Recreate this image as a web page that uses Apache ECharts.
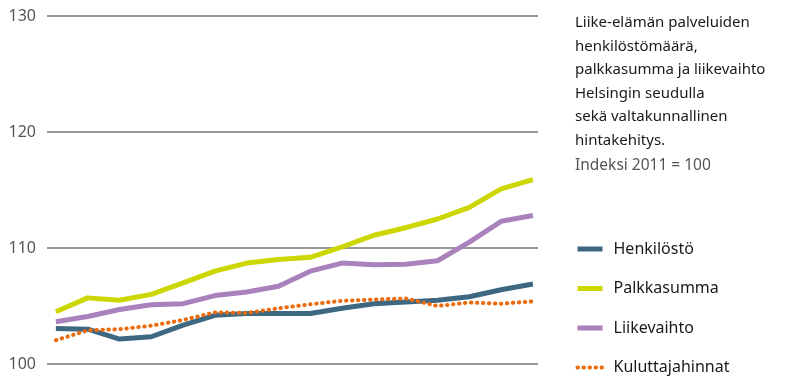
<!DOCTYPE html>
<html>
<head>
<meta charset="utf-8">
<script src="https://cdn.jsdelivr.net/npm/echarts@6/dist/echarts.min.js"></script>
<style>
  html, body { margin: 0; padding: 0; background: #fff; }
  #chart { width: 800px; height: 378px; }
</style>
</head>
<body>
<div id="chart"></div>
<script>
// indeksi 2011 = 100, 16 havaintoa
var xIndex = [0, 1, 2, 3, 4, 5, 6, 7, 8, 9, 10, 11, 12, 13, 14, 15];
var yTicks = [100, 110, 120, 130];

var henkilosto = [103.05, 103.0, 102.15, 102.35, 103.35, 104.2, 104.35, 104.35, 104.35, 104.8, 105.2, 105.35, 105.5, 105.8, 106.4, 106.9];
var palkkasumma = [104.5, 105.7, 105.5, 106.0, 107.0, 108.0, 108.7, 109.0, 109.2, 110.1, 111.1, 111.75, 112.5, 113.5, 115.1, 115.9];
var liikevaihto = [103.65, 104.1, 104.7, 105.1, 105.2, 105.9, 106.2, 106.7, 108.0, 108.7, 108.55, 108.6, 108.9, 110.5, 112.3, 112.8];
var kuluttajahinnat = [102.05, 102.9, 103.0, 103.3, 103.8, 104.45, 104.4, 104.8, 105.15, 105.45, 105.55, 105.65, 105.0, 105.3, 105.2, 105.4];

var seriesNames = ['Henkilöstö', 'Palkkasumma', 'Liikevaihto', 'Kuluttajahinnat'];

function pairs(values) {
    return values.map(function (v, i) {
        return [xIndex[i], v];
    });
}

var chart = echarts.init(document.getElementById('chart'));

var option = {
    animation: false,
    textStyle: { fontFamily: 'Noto Sans' },
    title: {
        text: 'Liike-elämän palveluiden\nhenkilöstömäärä,\npalkkasumma ja liikevaihto\nHelsingin seudulla\nsekä valtakunnallinen\nhintakehitys.',
        subtext: 'Indeksi 2011 = 100',
        left: 575,
        top: 11,
        padding: 0,
        itemGap: 6,
        textStyle: { fontSize: 15, fontWeight: 'normal', color: '#1a1a1a', lineHeight: 23.5, fontFamily: 'Noto Sans' },
        subtextStyle: { fontSize: 15.5, color: '#555', fontFamily: 'Noto Sans' }
    },
    legend: {
        orient: 'vertical',
        left: 575,
        top: 241,
        itemWidth: 25,
        itemHeight: 14,
        itemGap: 23.5,
        padding: 0,
        itemStyle: { opacity: 0 },
        lineStyle: { width: 'inherit' },
        textStyle: { fontSize: 16, lineHeight: 16, color: '#1a1a1a', padding: [0, 0, 0, 6] },
        data: seriesNames
    },
    grid: { left: 47, right: 262, top: 16, bottom: 14 },
    xAxis: {
        type: 'value',
        min: -0.28,
        max: 15.16,
        show: false
    },
    yAxis: {
        type: 'value',
        min: yTicks[0],
        max: yTicks[yTicks.length - 1],
        interval: 10,
        axisLine: { show: false },
        axisTick: { show: false },
        axisLabel: { fontSize: 16, color: '#555', margin: 11 },
        splitLine: { lineStyle: { color: '#777', width: 1.5 } }
    },
    series: [
        {
            name: seriesNames[0],
            type: 'line',
            data: pairs(henkilosto),
            symbol: 'none',
            z: 3,
            lineStyle: { color: '#3e6882', width: 5 },
            itemStyle: { color: '#3e6882' }
        },
        {
            name: seriesNames[1],
            type: 'line',
            data: pairs(palkkasumma),
            symbol: 'none',
            z: 2,
            lineStyle: { color: '#ccd600', width: 5 },
            itemStyle: { color: '#ccd600' }
        },
        {
            name: seriesNames[2],
            type: 'line',
            data: pairs(liikevaihto),
            symbol: 'none',
            z: 2,
            lineStyle: { color: '#a982bd', width: 5 },
            itemStyle: { color: '#a982bd' }
        },
        {
            name: seriesNames[3],
            type: 'line',
            data: pairs(kuluttajahinnat),
            symbol: 'none',
            z: 4,
            lineStyle: { color: '#ea6c0c', width: 4, type: [0.5, 5.5], cap: 'round' },
            itemStyle: { color: '#ea6c0c' }
        }
    ]
};

chart.setOption(option);
</script>
</body>
</html>
